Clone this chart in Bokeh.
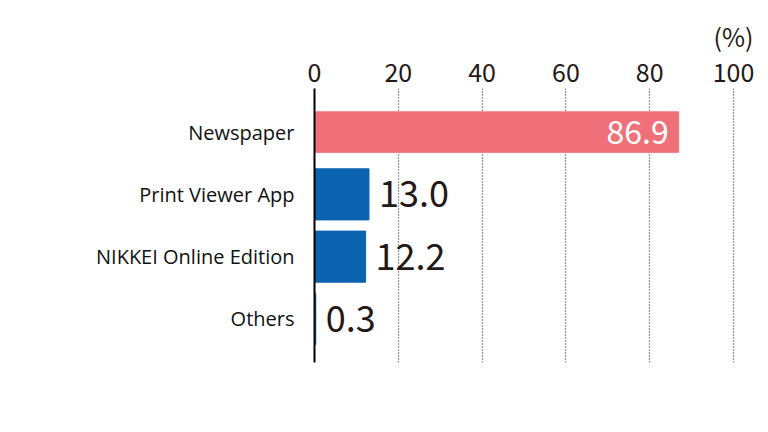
from bokeh.plotting import figure
from bokeh.models import ColumnDataSource, FactorRange, Range1d, FixedTicker, LinearAxis
from bokeh.core.properties import value
from bokeh.embed import file_html
from bokeh.resources import INLINE

# data
categories = ["Newspaper", "Print Viewer App", "NIKKEI Online Edition", "Others"]
shares = [86.9, 13.0, 12.2, 0.3]
ticks = [0, 20, 40, 60, 80, 100]
unit_label = "(%)"

PINK = "#f07079"
BLUE = "#0a62b0"
INK = "#231815"
NUM_FONT = "Noto Sans CJK JP"

n = len(categories)
colors = [PINK] + [BLUE] * (n - 1)
heights = [0.65] + [0.82] * (n - 1)

src = ColumnDataSource(dict(cat=categories, val=shares, color=colors, h=heights))
src_in = ColumnDataSource(dict(cat=categories[:1], val=shares[:1],
                               txt=["%.1f" % v for v in shares[:1]]))
src_out = ColumnDataSource(dict(cat=categories[1:], val=shares[1:],
                                txt=["%.1f" % v for v in shares[1:]]))

p = figure(width=760, height=424,
           y_range=FactorRange(*reversed(categories), range_padding=0.2,
                               range_padding_units="absolute"),
           x_range=Range1d(0, 105),
           x_axis_location="above",
           output_backend="svg", toolbar_location=None,
           min_border_left=314, min_border_right=6,
           min_border_top=88, min_border_bottom=62)

p.hbar(y="cat", right="val", left=0, height="h", color="color", source=src)

p.text(x="val", y="cat", text="txt", source=src_in, text_color="white",
       text_align="right", text_baseline="middle", x_offset=-10,
       text_font=value(NUM_FONT), text_font_size="32px")
p.text(x="val", y="cat", text="txt", source=src_out, text_color=INK,
       text_align="left", text_baseline="middle", x_offset=10,
       text_font=value(NUM_FONT), text_font_size="36px")

# top axis with percent ticks
xa = p.xaxis[0]
xa.ticker = FixedTicker(ticks=ticks)
xa.axis_line_color = None
xa.major_tick_line_color = None
xa.minor_tick_line_color = None
xa.major_label_text_font = NUM_FONT
xa.major_label_text_font_size = "25px"
xa.major_label_text_color = INK
xa.major_label_standoff = 1

# unit label sits above the 100 tick, as a second outer axis
ua = LinearAxis(ticker=FixedTicker(ticks=[100]), major_label_overrides={100: unit_label})
ua.axis_line_color = None
ua.major_tick_line_color = None
ua.minor_tick_line_color = None
ua.major_label_text_font = NUM_FONT
ua.major_label_text_font_size = "25px"
ua.major_label_text_color = INK
ua.major_label_standoff = 0
p.add_layout(ua, "above")

# left axis: category names and black baseline
ya = p.yaxis[0]
ya.axis_line_color = "black"
ya.axis_line_width = 2
ya.major_tick_line_color = None
ya.minor_tick_line_color = None
ya.major_label_standoff = 14
ya.major_label_text_font = "Open Sans"
ya.major_label_text_font_size = "20px"
ya.major_label_text_color = "#111111"

p.xgrid.ticker = FixedTicker(ticks=ticks[1:])
p.xgrid.grid_line_color = "#333333"
p.xgrid.grid_line_dash = "1 2"
p.xgrid.grid_line_width = 1.3
p.ygrid.grid_line_color = None
p.outline_line_color = None

open("out.html", "w").write(file_html(p, INLINE))
